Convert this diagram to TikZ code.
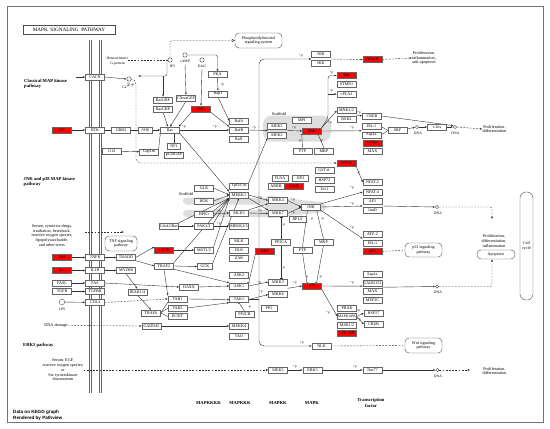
\documentclass[tikz,border=0pt]{standalone}
\usepackage{fontspec}
\setmainfont{Liberation Serif}
\newfontfamily\mycreditfont{Liberation Sans}
\usetikzlibrary{arrows.meta,calc}
\pgfdeclarelayer{scaf}
\pgfdeclarelayer{bg}
\pgfsetlayers{scaf,bg,main}
\newcommand{\mygfont}{\fontsize{4.1}{4.3}\selectfont}
\newcommand{\mygsmall}{\fontsize{3.7}{4}\selectfont}
\newcommand{\mylfont}{\fontsize{4.2}{4.7}\selectfont}
\newcommand{\mytinyfont}{\fontsize{3.7}{4.6}\selectfont}
\newcommand{\mysecfont}{\fontsize{4.6}{5.2}\selectfont\bfseries}
\newcommand{\myplfont}{\fontsize{3.3}{3.5}\selectfont}
\newcommand{\mypathfont}{\fontsize{4.1}{4.6}\selectfont}
\tikzset{
 gene/.style={draw=black!60, line width=0.35pt, fill=white, minimum width=19pt, minimum height=6pt, inner xsep=0.3pt, inner ysep=0pt, font=\mygfont},
 rgene/.style={gene, fill=red},
 pbox/.style={draw=black!70, line width=0.4pt, fill=white, rounded corners=4pt, align=center, inner sep=0.5pt, font=\mypathfont},
 smallc/.style={circle, draw=black!75, line width=0.35pt, fill=white, minimum size=4.4pt, inner sep=0pt},
 dnac/.style={circle, draw=black!75, line width=0.35pt, fill=white, minimum size=3.4pt, inner sep=0pt},
 lbl/.style={inner sep=0pt, font=\mylfont, align=center},
 dnal/.style={inner sep=0pt, font=\mytinyfont},
 sec/.style={inner sep=0pt, font=\mysecfont, align=left},
 pl/.style={inner sep=0pt, font=\myplfont},
 lk/.style={draw=black!80, line width=0.4pt},
 arr/.style={lk, -{Latex[length=2.3pt,width=1.9pt]}},
 inh/.style={lk, -{Bar[width=3pt]}},
 dsh/.style={lk, dash pattern=on 1.8pt off 1.4pt},
 oarr/.style={lk, -{Triangle[open,length=3pt,width=3pt]}},
}
\begin{document}
\begin{tikzpicture}[x=1pt,y=-1pt]
\useasboundingbox (0,0) rectangle (550,429);

% ---------- title and section texts
\node[draw=black!70, line width=0.4pt, minimum width=92pt, minimum height=9pt, inner sep=0pt, font=\fontsize{5.2}{5.5}\selectfont] (title) at (69,30) {MAPK\ \ SIGNALING\ \ PATHWAY};
\node[sec, anchor=west] (secA) at (24,83.5) {Classical MAP kinase\\pathway};
\node[sec, anchor=west] (secB) at (23.5,181.5) {JNK and p38 MAP kinase\\pathway};
\node[sec, anchor=west] (secC) at (23,345) {ERK5 pathway};
\node[lbl] (stress1) at (52,235.5) {Serum, cytotoxic drugs,\\irradiation, heatshock,\\reactive oxygen species,\\lipopolysaccharide,\\and other stress};
\node[lbl] (dnadmg) at (56,325.5) {DNA damage};
\node[lbl] (stress2) at (63,370) {Serum, EGF,\\reactive oxygen species,\\or\\Src tyrosinkinase\\downstream};
\node[lbl, font=\mytinyfont] (Gprot) at (117.5,61) {Heterotrimeric\\G-protein};
\node[lbl] (scafA) at (279,114) {Scaffold};
\node[lbl] (scafB) at (186,194) {Scaffold};
\node[lbl] (out1) at (424,58) {Proliferation,\\inflammation,\\anti-apoptosis};
\node[lbl] (out2) at (494.5,129) {Proliferation,\\differentiation};
\node[lbl] (out3) at (494,241) {Proliferation,\\differentiation,\\inflammation};
\node[lbl] (out4) at (494.5,371) {Proliferation,\\differentiation};
\node[sec] (colA) at (208.5,403) {MAPKKKK};
\node[sec] (colB) at (240,403) {MAPKKK};
\node[sec] (colC) at (278,403) {MAPKK};
\node[sec] (colD) at (312,403) {MAPK};
\node[sec, align=center] (colE) at (371,403) {Transcription\\factor};
\node[anchor=west, inner sep=0pt, align=left, font=\mycreditfont\bfseries\fontsize{4.6}{5.8}\selectfont] (credit) at (13,415) {Data on KEGG graph\\Rendered by Pathview};

% ---------- pathway boxes
\node[pbox, minimum width=47pt, minimum height=15pt] (PIpath) at (258.5,40.5) {Phosphatidylinositol\\signaling system};
\node[pbox, minimum width=32pt, minimum height=15pt] (TNFpath) at (121,243.5) {TNF signaling\\pathway};
\node[pbox, minimum width=37pt, minimum height=14pt] (p53path) at (423.5,250) {p53 signaling\\pathway};
\node[pbox, minimum width=37pt, minimum height=15pt] (Wntpath) at (423.5,345.5) {Wnt signaling\\pathway};
\node[pbox, minimum width=38pt, minimum height=9pt] (Apop) at (496,254.5) {Apoptosis};
\node[draw=black!70, line width=0.4pt, rounded corners=6pt, minimum width=13pt, minimum height=108pt, inner sep=0pt, align=center, font=\mypathfont] (CellCycle) at (526.5,246) {Cell\\cycle};

% ---------- small compounds
\node[smallc] (IP3) at (170,60) {};
\node[smallc] (cAMP) at (185,55) {};
\node[smallc] (DAG) at (202,60) {};
\node[smallc] (Ca) at (129,79) {};
\node[smallc, minimum size=5.5pt] (LPS) at (62,302) {};
\node[dnal] (IP3l) at (172.5,66.5) {IP3};
\node[dnal] (cAMPl) at (185,61.5) {cAMP};
\node[dnal] (DAGl) at (202,66.5) {DAG};
\node[dnal] (Cal) at (129,85.5) {Ca$^{2+}$};
\node[dnal] (LPSl) at (62,309) {LPS};
\node[dnac] (dna1) at (417,127) {};
\node[dnac] (dna2) at (455,127) {};
\node[dnac] (dna3) at (437,207) {};
\node[dnac] (dna4) at (437,286.5) {};
\node[dnac] (dna5) at (437.5,370) {};
\node[dnal] (dna1l) at (418,133) {DNA};
\node[dnal] (dna2l) at (455.5,133) {DNA};
\node[dnal] (dna3l) at (438,213) {DNA};
\node[dnal] (dna4l) at (438,292.5) {DNA};
\node[dnal] (dna5l) at (438,376.5) {DNA};

% ---------- genes: classical pathway
\node[gene] (CACN) at (95,77) {CACN};
\node[rgene] (GF) at (62,130) {GF};
\node[gene] (RTK) at (95,130) {RTK};
\node[gene] (GRB2) at (121,130) {GRB2};
\node[gene, minimum width=14pt] (SOS) at (145.5,130) {SOS};
\node[gene] (Ras) at (170,130) {Ras};
\node[gene] (RasGRF) at (163,100) {RasGRF};
\node[gene] (RasGRP) at (163,109) {RasGRP};
\node[gene] (CNrasGEF) at (186,98) {CNrasGEF};
\node[rgene] (PKC) at (201,109) {PKC};
\node[gene] (PKA) at (217.5,74.5) {PKA};
\node[gene] (Rap1) at (218,94) {Rap1};
\node[gene] (RafA) at (239,121) {RafA};
\node[gene] (RafB) at (239,130) {RafB};
\node[gene] (Raf1) at (239,139.5) {Raf1};
\node[gene, minimum width=13pt] (NF1) at (174,146) {NF1};
\node[gene] (p120) at (174,155) {p120GAP};
\node[gene] (Gap1m) at (149,152) {Gap1m};
\node[gene] (G12) at (112,151) {G12};
\node[gene] (MEK1) at (277,126) {MEK1};
\node[gene] (MEK2) at (277,135) {MEK2};
\node[gene] (MP1) at (302,120) {MP1};
\node[rgene] (ERK) at (312,131) {ERK};
\node[gene] (PTPa) at (302.5,151) {PTP};
\node[gene] (MKPa) at (324,151) {MKP};
\node[rgene] (Tau) at (346.5,75.5) {Tau};
\node[gene] (STMN1) at (346.5,84.5) {STMN1};
\node[gene] (cPLA2) at (346.5,94) {cPLA2};
\node[gene] (MNK) at (346.5,110.5) {MNK1/2};
\node[gene] (RSK2) at (346.5,119.5) {RSK2};
\node[gene] (CREBa) at (372,116) {CREB};
\node[gene] (Elk1a) at (371.5,126.5) {Elk-1};
\node[gene] (Sap1a) at (371.5,135) {Sap1a};
\node[gene] (SRF) at (397.5,130.5) {SRF};
\node[rgene] (cMyc) at (372.5,143) {c-Myc};
\node[gene] (MAXa) at (372.5,151) {MAX};
\node[gene] (cfos) at (437,127) {c-fos};
\node[gene] (NIK) at (321,54.5) {NIK};
\node[gene] (IKK) at (321,63) {IKK};
\node[rgene] (NFkB) at (372.5,59.5) {NF$\kappa$B};

% ---------- genes: JNK / p38
\node[rgene] (PPP3C) at (346.5,163) {PPP3C};
\node[gene] (NFAT2) at (372.5,182.5) {NFAT-2};
\node[gene] (NFAT4) at (372.5,192) {NFAT-4};
\node[gene, minimum width=16pt] (FLNA) at (280,178) {FLNA};
\node[gene, minimum width=16pt] (JIP3) at (300.5,178) {JIP3};
\node[gene] (GSTp) at (324.5,170.5) {GST$\pi$};
\node[gene] (HSP72) at (324.5,180) {HSP72};
\node[gene] (Evi1) at (324.5,189) {Evi1};
\node[gene, minimum width=16pt] (ARRB) at (276,186) {ARRB};
\node[rgene] (CrkII) at (294,186) {CrkII};
\node[gene] (MKK4) at (278,200.5) {MKK4};
\node[gene] (MKK7) at (278,213.5) {MKK7};
\node[gene] (JNK) at (311,207) {JNK};
\node[gene, minimum width=17pt] (JIP12) at (297.5,219) {JIP1/2};
\node[gene] (AP1) at (372.5,201.5) {AP1};
\node[gene] (JunD) at (372.5,210.5) {JunD};
\node[gene] (ATF2a) at (372.5,234.5) {ATF-2};
\node[gene] (Elk1b) at (372.5,243) {Elk-1};
\node[rgene] (p53) at (372.5,251.5) {p53};
\node[gene] (PP2CA) at (281,242) {PP2CA};
\node[gene] (PTPb) at (302.5,250) {PTP};
\node[gene] (MKPb) at (323.5,242) {MKP};
\node[gene] (Tpl2) at (239,186) {Tpl2/Cot};
\node[gene] (MEKK1) at (239,195) {MEKK1};
\node[gene] (GLK) at (204,188) {GLK};
\node[gene] (HGK) at (204,201) {HGK};
\node[gene] (HPK1) at (204,214) {HPK1};
\node[gene] (MLK3) at (239,213) {MLK3};
\node[gene] (Cdc42) at (169,226) {Cdc42/Rac};
\node[gene] (PAK12) at (204,226) {PAK1/2};
\node[gene] (MEKK23) at (239,226) {MEKK2/3};
\node[gene] (MLK) at (239,241) {MLK};
\node[gene] (DLK) at (239,250) {DLK};
\node[gene] (ZAK) at (239,258.5) {ZAK};
\node[rgene] (CASP) at (164,250) {CASP};
\node[gene] (MST12) at (204,250) {MST1/2};
\node[gene] (TRAF2) at (164,266) {TRAF2};
\node[gene, minimum width=15pt] (GCK) at (205,266.5) {GCK};
\node[rgene] (AKT) at (265,251) {AKT};
\node[gene] (ASK2) at (239,275) {ASK2};
\node[gene] (ASK1) at (239,286) {ASK1};
\node[gene] (TAK1) at (239,299.5) {TAK1};
\node[gene] (MKK3) at (278,282) {MKK3};
\node[gene] (MKK6) at (278,294.5) {MKK6};
\node[rgene] (p38) at (312,286) {p38};
\node[gene, minimum width=16pt] (PP5) at (269,308) {PP5};
\node[gene] (PRAK) at (347,308) {PRAK};
\node[gene, font=\mygsmall] (MAPKAPK) at (347,316.5) {MAPKAPK};
\node[gene] (MSK12) at (347,325) {MSK1/2};
\node[rgene] (CDC25B) at (347,333.5) {CDC25B};
\node[gene] (HSP27) at (373.5,313) {HSP27};
\node[gene] (CREBb) at (373.5,324.5) {CREB};
\node[gene] (Sap1b) at (372.5,274.5) {Sap1a};
\node[gene] (GADD153) at (372.5,283) {GADD153};
\node[gene] (MAXb) at (372.5,291.5) {MAX};
\node[gene] (MEF2C) at (372.5,300) {MEF2C};
\node[gene] (NLK) at (321.5,346) {NLK};
\node[gene] (MEK5) at (278,370) {MEK5};
\node[gene] (ERK5) at (312.5,370) {ERK5};
\node[gene] (Nur77) at (372.5,370) {Nur77};

% ---------- genes: receptors lower left
\node[rgene] (TNF) at (62,257.5) {TNF};
\node[gene] (TNFR) at (95,257.5) {TNFR};
\node[gene] (TRADD) at (126,257.5) {TRADD};
\node[rgene] (IL1) at (62,270.5) {IL1};
\node[gene] (IL1R) at (95,270.5) {IL1R};
\node[gene] (MYD88) at (126,270.5) {MYD88};
\node[gene] (FASL) at (62,283) {FASL};
\node[gene] (FAS) at (95,283) {FAS};
\node[gene] (TGFB) at (62,291.5) {TGFB};
\node[gene] (TGFBR) at (95,291.5) {TGFBR};
\node[gene] (CD14) at (95,302.5) {CD14};
\node[gene] (IRAK) at (137.5,292) {IRAK1/4};
\node[gene] (TRAF6) at (151,313) {TRAF6};
\node[gene] (TAB1) at (177.5,299) {TAB1};
\node[gene] (TAB2) at (177.5,308) {TAB2};
\node[gene] (ECSIT) at (177.5,316.5) {ECSIT};
\node[gene] (DAXX) at (189,287) {DAXX};
\node[gene] (PP2CB) at (244.5,314.5) {PP2CB};
\node[gene] (GADD45) at (151.5,326) {GADD45};
\node[gene] (MEKK4) at (239,326) {MEKK4};
\node[gene] (TAO) at (239,336.5) {TAO};

% ---------- +p / -p labels
\node[pl] (pA) at (222.5,84.5) {+p};
\node[pl] (pB) at (184,127) {+p};
\node[pl] (pC) at (215,126.5) {+p};
\node[pl] (pD) at (254,127.5) {+p};
\node[pl] (pE) at (294,128) {+p};
\node[pl] (pF) at (331.5,72.5) {+p};
\node[pl] (pG) at (331.5,90.5) {+p};
\node[pl] (pH) at (330,122.5) {+p};
\node[pl] (pI) at (352,128) {+p};
\node[pl] (pJ) at (359,113) {+p};
\node[pl] (pK) at (301,56) {+p};
\node[pl] (pL) at (300,141) {-p};
\node[pl] (pM) at (321.5,141) {-p};
\node[pl] (pN) at (358.5,173) {-p};
\node[pl] (pO) at (352,187.5) {+p};
\node[pl] (pP) at (352,204) {+p};
\node[pl] (pQ) at (352,228) {+p};
\node[pl] (pR) at (293,200) {+p};
\node[pl] (pS) at (293,212.5) {+p};
\node[pl] (pT) at (260,197.5) {+p};
\node[pl] (pU) at (260,211) {+p};
\node[pl] (pV) at (219,211) {+p};
\node[pl] (pW) at (219,223.5) {+p};
\node[pl] (pX) at (284,225) {-p};
\node[pl] (pY) at (284,268) {-p};
\node[pl] (pZ) at (312,219) {-p};
\node[pl] (pAA) at (322.5,219) {-p};
\node[pl] (pAB) at (307,277) {-p};
\node[pl] (pAC) at (320.5,277) {-p};
\node[pl] (pAD) at (259.5,282.5) {+p};
\node[pl] (pAE) at (261,292) {+p};
\node[pl] (pAF) at (295,283) {+p};
\node[pl] (pAG) at (352,283) {+p};
\node[pl] (pAH) at (328,312.5) {+p};
\node[pl] (pAI) at (358.5,310.5) {+p};
\node[pl] (pAJ) at (359,319.5) {+p};
\node[pl] (pAK) at (249.5,307.5) {-p};
\node[pl] (pAL) at (302,343) {+p};
\node[pl] (pAM) at (295,367) {+p};
\node[pl] (pAN) at (355,367) {+p};

% ---------- free coordinates
\coordinate (cacnin) at (76,77);
\coordinate (gpend) at (128,60);
\coordinate (ipa) at (167,62);
\coordinate (ipb) at (163,76);
\coordinate (ipend) at (138,76);
\coordinate (campa) at (185,64.5);
\coordinate (daga) at (202,69);
\coordinate (MEKin) at (268,130.5);
\coordinate (erkup) at (328,118);
\coordinate (erkmid) at (328,94);
\coordinate (vj) at (259,299.5);
\coordinate (nikin) at (311.5,59);
\coordinate (nikout) at (330.5,59);
\coordinate (s1a) at (85,232);
\coordinate (s1b) at (124,232);
\coordinate (o3in) at (492,219);
\coordinate (o4in) at (470,370);
\coordinate (jnkb1) at (307.5,210);
\coordinate (jnkb2) at (316.5,210);
\coordinate (p38t1) at (307,283);
\coordinate (p38t2) at (316.5,283);

% ---------- background: frame, membrane, scaffolds
\begin{pgfonlayer}{scaf}
\fill[white] (0,0) rectangle (550,429);
\draw[black!55, line width=0.5pt] (7,6) rectangle (543,422);
\draw[black!60, line width=0.45pt, double=white, double distance=1.5pt] (90.5,40) -- (90.5,393);
\draw[black!60, line width=0.45pt, double=white, double distance=1.5pt] (100.5,40) -- (100.5,393);
\fill[black!13, rounded corners=9pt] (263,115.5) rectangle (331,141.5);
\fill[black!13, rounded corners=3.5pt] (183,197.5) rectangle (272,204.5);
\fill[black!13, rounded corners=3.5pt] (183,210) rectangle (272,217);
\fill[black!13, rounded corners=5pt] (265,195) -- (300,200) -- (326,202.5) -- (326,212) -- (300,214.5) -- (265,219) -- cycle;
\end{pgfonlayer}

% ---------- connectors
\begin{pgfonlayer}{bg}
\draw[arr] (cacnin) -- (CACN.west);
\draw[arr] (CACN.east) -- (Ca.west);
\draw[arr, dsh, rounded corners=5pt] (Ca.east) -| (136,163) -- (PPP3C.west);
\draw[dsh] (gpend) -- (IP3.west);
\draw[oarr, dsh, rounded corners=3pt] (IP3.north) |- (PIpath.west);
\draw[arr, rounded corners=2pt] (ipa) -- (167,76) -- (ipend);
\draw[arr] (ipb) -- (RasGRF.north);
\draw[arr] (campa) -- (CNrasGEF.north);
\draw[arr, rounded corners=2pt] (cAMP.east) -| (PKA.north);
\draw[arr] (daga) -- (PKC.north);
\draw[arr] (PKA) -- (Rap1);
\draw[arr] (Rap1.south) -- (RafA.west);
\draw[arr] (GF) -- (RTK);
\draw[lk] (RTK) -- (GRB2);
\draw[lk] (GRB2) -- (SOS);
\draw[arr] (SOS) -- (Ras);
\draw[arr] (RasGRP.south) -- ($(Ras.north)+(-2,0)$);
\draw[arr] (CNrasGEF.south) -- (Ras.north);
\draw[arr] (PKC.south west) -- ($(Ras.north east)+(-1,0)$);
\draw[arr] (PKC.south east) -- (RafB.north west);
\draw[arr] (Ras.east) -- (RafB.west);
\draw[arr] (RafB.east) -- (MEKin);
\draw[arr] ($(MEK1.east)!0.5!(MEK2.east)$) -- (ERK.west);
\draw[arr] (G12) -- (Gap1m);
\draw[inh] (Gap1m.north east) -- (Ras.south west);
\draw[inh] (NF1.north) -- (NF1.north |- Ras.south);
\draw[arr] (Ras.south east) -- (MEKK1.north west);
\draw[arr] (Tpl2.north east) -- (MEK2.south west);
% ERK targets
\draw[arr, rounded corners=3pt] (ERK.north east) -- (erkup) |- (Tau.west);
\draw[arr] (erkmid) -- (cPLA2.west);
\draw[arr] (ERK.north east) -- (MNK.west);
\draw[arr] (ERK.east) -- ($(Elk1a.west)!0.5!(Sap1a.west)$);
\draw[arr] ($(MNK.east)!0.5!(RSK2.east)$) -- (CREBa.west);
\draw[lk] (Elk1a.east) -- (SRF.west);
\draw[lk] (Sap1a.east) -- (SRF.west);
\draw[arr] (SRF) -- (dna1);
\draw[arr] (dna1) -- (cfos);
\draw[arr] (cfos) -- (dna2);
\draw[arr] (CREBa.east) -- (dna2.north west);
\draw[arr, dsh] (dna2.east) -- (out2.west);
\draw[inh] (PTPa.north) -- ($(ERK.south west)+(-0.5,0)$);
\draw[inh] (MKPa.north) -- ($(ERK.south)+(6,0)$);
% NIK / NLK branch
\draw[lk] (TAK1.east) -- (vj);
\draw[arr, rounded corners=5pt] (vj) |- (nikin);
\draw[arr, rounded corners=5pt] (vj) |- (NLK.west);
\draw[arr, dsh] (nikout) -- (NFkB.west);
\draw[arr, dsh] (NFkB.east) -- (out1.west);
\draw[dsh] (NLK.east) -- (Wntpath.west);
% JNK branch
\draw[arr] (GLK.east) -- (MEKK1.west);
\draw[arr] (HGK.east) -- (MEKK1.west);
\draw[arr] (HPK1.north east) -- (MEKK1.south west);
\draw[arr] (PAK12.north east) -- (MEKK1.south west);
\draw[arr] (Cdc42.north east) -- (MEKK1.south west);
\draw[arr] (MST12.north east) -- (MEKK1.south west);
\draw[arr] (TRAF2.north east) -- (MEKK1.south west);
\draw[arr] (GCK.north east) -- (MEKK1.south);
\draw[arr] (HPK1.east) -- (MLK3.west);
\draw[arr] (PAK12.east) -- (MEKK23.west);
\draw[arr] (Cdc42.east) -- (PAK12.west);
\draw[arr] (CASP.east) -- (MST12.west);
\draw[arr] (TRAF2.east) -- (GCK.west);
\draw[arr] (TRADD.east) -- (CASP.north west);
\draw[arr] (TRADD.south east) -- (TRAF2.west);
\draw[arr] (MEKK1.east) -- (MKK4.west);
\draw[arr] (MEKK1.south east) -- (MKK7.north west);
\draw[arr] (MLK3.east) -- (MKK7.west);
\draw[arr] (MLK3.north east) -- (MKK4.south west);
\draw[arr] (MKK4.east) -- (JNK.west);
\draw[arr] (MKK7.east) -- (JNK.west);
\draw[arr] (JNK.north east) -- (NFAT4.west);
\draw[arr] (PPP3C.south east) -- (NFAT2.west);
\draw[arr] (JNK.east) -- ($(AP1.west)!0.5!(JunD.west)$);
\draw[arr] (JNK.south east) -- ($(ATF2a.west)!0.5!(Elk1b.west)$);
\draw[arr] ($(AP1.east)!0.5!(JunD.east)$) -- (dna3.west);
\draw[arr, dsh, rounded corners=2pt] (dna3.east) -- (492,207) -- (o3in);
\draw[dsh] (p53.east) -- (p53path.west);
\draw[inh] (PTPb.north) -- (jnkb1);
\draw[inh] (MKPb.north) -- (jnkb2);
\draw[inh] (PTPb.south) -- (p38t1);
\draw[inh] (MKPb.south) -- (p38t2);
\draw[inh] (PP2CA.north) -- (PP2CA.north |- MKK7.south);
\draw[inh] (PP2CA.south) -- (PP2CA.south |- MKK3.north);
% p38 branch
\draw[arr] (ASK1.east) -- (MKK3.west);
\draw[arr] (TAK1.east) -- (MKK6.west);
\draw[arr] ($(MKK3.east)!0.5!(MKK6.east)$) -- (p38.west);
\draw[arr] (p38.east) -- (GADD153.south west);
\draw[arr] (p38.south east) -- (MAPKAPK.west);
\draw[arr] (MAPKAPK.east) -- (HSP27.west);
\draw[arr] (MAPKAPK.east) -- (CREBb.west);
\draw[arr] ($(GADD153.east)!0.5!(MAXb.east)$) -- (dna4.west);
\draw[arr, dsh, rounded corners=2pt] (dna4.east) -| ($(Apop.south)+(-4,0)$);
\draw[inh] (PP2CB.north) -- (TAK1.south);
\draw[inh] (AKT.south west) -- (ASK1.north east);
% receptors lower left
\draw[arr] (TNF) -- (TNFR);
\draw[arr] (IL1) -- (IL1R);
\draw[arr] (FASL) -- (FAS);
\draw[arr] (TGFB) -- (TGFBR);
\draw[arr] (LPS) -- (CD14);
\draw[arr] (TNFR) -- (TRADD);
\draw[arr] (IL1R) -- (MYD88);
\draw[arr] (MYD88.south) -- (IRAK.north);
\draw[arr] (IRAK.south) -- (TRAF6.north);
\draw[arr] (FAS.east) -- (DAXX.west);
\draw[arr, dsh] (CD14.east) -- (TAB1.west);
\draw[lk] (TRAF6.east) -- (TAB1.south west);
\draw[lk] (TRAF6.east) -- (TAB2.west);
\draw[lk] (TRAF6.east) -- (ECSIT.west);
\draw[arr] (TAB1.east) -- (TAK1.west);
\draw[arr] (TAB2.east) -- (TAK1.south west);
\draw[arr] (DAXX.east) -- (ASK1.west);
\draw[arr] (TRAF2.south east) -- (ASK1.north west);
\draw[arr] (TRAF2.south) -- (TAB1.north west);
\draw[arr, dsh] (s1a) -- (s1b);
\draw[arr, dsh] (dnadmg.east) -- (GADD45.west);
\draw[arr] (GADD45.east) -- (MEKK4.west);
% ERK5
\draw[arr, dsh] (stress2.east) -- (MEK5.west);
\draw[arr] (MEK5) -- (ERK5);
\draw[arr] (ERK5) -- (Nur77);
\draw[arr] (Nur77) -- (dna5);
\draw[arr, dsh] (dna5.east) -- (o4in);
\end{pgfonlayer}
\end{tikzpicture}
\end{document}
